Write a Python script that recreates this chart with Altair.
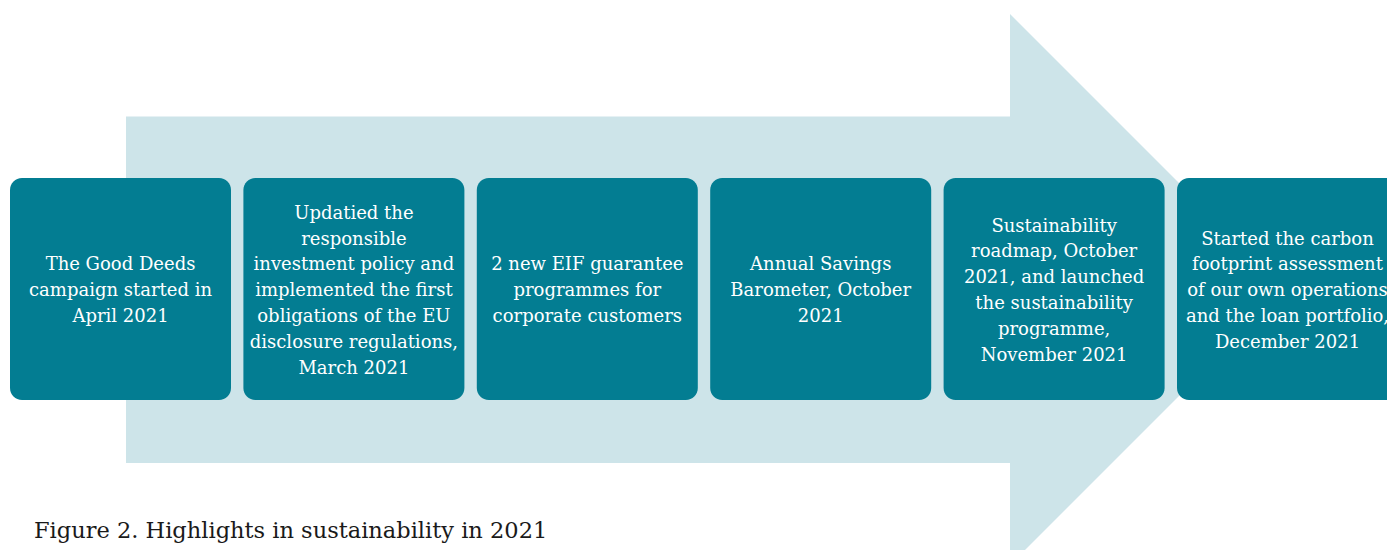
import altair as alt
import pandas as pd

# --- content ---
steps = [1, 2, 3, 4, 5, 6]
labels = [
    "The Good Deeds\ncampaign started in\nApril 2021",
    "Updatied the\nresponsible\ninvestment policy and\nimplemented the first\nobligations of the EU\ndisclosure regulations,\nMarch 2021",
    "2 new EIF guarantee\nprogrammes for\ncorporate customers",
    "Annual Savings\nBarometer, October\n2021",
    "Sustainability\nroadmap, October\n2021, and launched\nthe sustainability\nprogramme,\nNovember 2021",
    "Started the carbon\nfootprint assessment\nof our own operations\nand the loan portfolio,\nDecember 2021",
]
caption = "Figure 2. Highlights in sustainability in 2021"

# --- layout (pixel space of the page) ---
W, H = 1379, 542
X0, Y0 = 8, 8
pitch, box_w = 233.4, 221
box_left0 = 10
box_top, box_bot = 178, 400
mid_y = 289.5
text_mid = 291.2
LH = 25.8
shaft_x0, shaft_x1, shaft_top, shaft_bot = 126, 1010, 116.5, 463
head_half = 275.5
tip_x = shaft_x1 + head_half

TEAL = "#037d92"
LIGHT = "#cde4e9"
FONT = "DejaVu Serif"

xs = alt.Scale(domain=[X0, X0 + W], nice=False, zero=False)
ys = alt.Scale(domain=[Y0, Y0 + H], nice=False, zero=False, reverse=True)
noax = None

boxes = pd.DataFrame({"step": steps, "label": labels})
boxes["x0"] = box_left0 + (boxes["step"] - 1) * pitch
boxes["x1"] = boxes["x0"] + box_w
boxes["xc"] = (boxes["x0"] + boxes["x1"]) / 2
boxes["y0"] = box_top
boxes["y1"] = box_bot
boxes["nl"] = boxes["label"].str.count("\n") + 1
boxes["yc"] = text_mid - (boxes["nl"] - 1) / 2 * LH

shaft = pd.DataFrame({"x0": [shaft_x0], "x1": [shaft_x1], "y0": [shaft_top], "y1": [shaft_bot]})
head = pd.DataFrame({
    "x": [shaft_x1, tip_x],
    "yt": [mid_y - head_half, mid_y],
    "yb": [mid_y + head_half, mid_y],
})
cap = pd.DataFrame({"x": [34], "y": [538], "t": [caption]})

shaft_m = alt.Chart(shaft).mark_rect(color=LIGHT, clip=True).encode(
    x=alt.X("x0:Q", scale=xs, axis=noax), x2="x1:Q",
    y=alt.Y("y0:Q", scale=ys, axis=noax), y2="y1:Q",
)
head_m = alt.Chart(head).mark_area(color=LIGHT, clip=True, opacity=1).encode(
    x=alt.X("x:Q", scale=xs, axis=noax),
    y=alt.Y("yt:Q", scale=ys, axis=noax), y2="yb:Q",
)
box_m = alt.Chart(boxes).mark_rect(color=TEAL, cornerRadius=12, clip=True).encode(
    x=alt.X("x0:Q", scale=xs, axis=noax), x2="x1:Q",
    y=alt.Y("y0:Q", scale=ys, axis=noax), y2="y1:Q",
)
txt_m = alt.Chart(boxes).mark_text(
    color="white", font=FONT, fontSize=18, lineBreak="\n", lineHeight=LH,
    align="center", baseline="middle",
).encode(
    x=alt.X("xc:Q", scale=xs, axis=noax),
    y=alt.Y("yc:Q", scale=ys, axis=noax),
    text="label:N",
)
cap_m = alt.Chart(cap).mark_text(
    color="#1a1a1a", font=FONT, fontSize=22.5, align="left", baseline="alphabetic",
).encode(
    x=alt.X("x:Q", scale=xs, axis=noax),
    y=alt.Y("y:Q", scale=ys, axis=noax),
    text="t:N",
)

chart = alt.layer(shaft_m, head_m, box_m, txt_m, cap_m).properties(
    width=W, height=H, padding=0, autosize=alt.AutoSizeParams(type="none"),
).configure_view(strokeWidth=0, stroke=None)

chart.save("out.html", embed_options={"renderer": "svg", "actions": False})
